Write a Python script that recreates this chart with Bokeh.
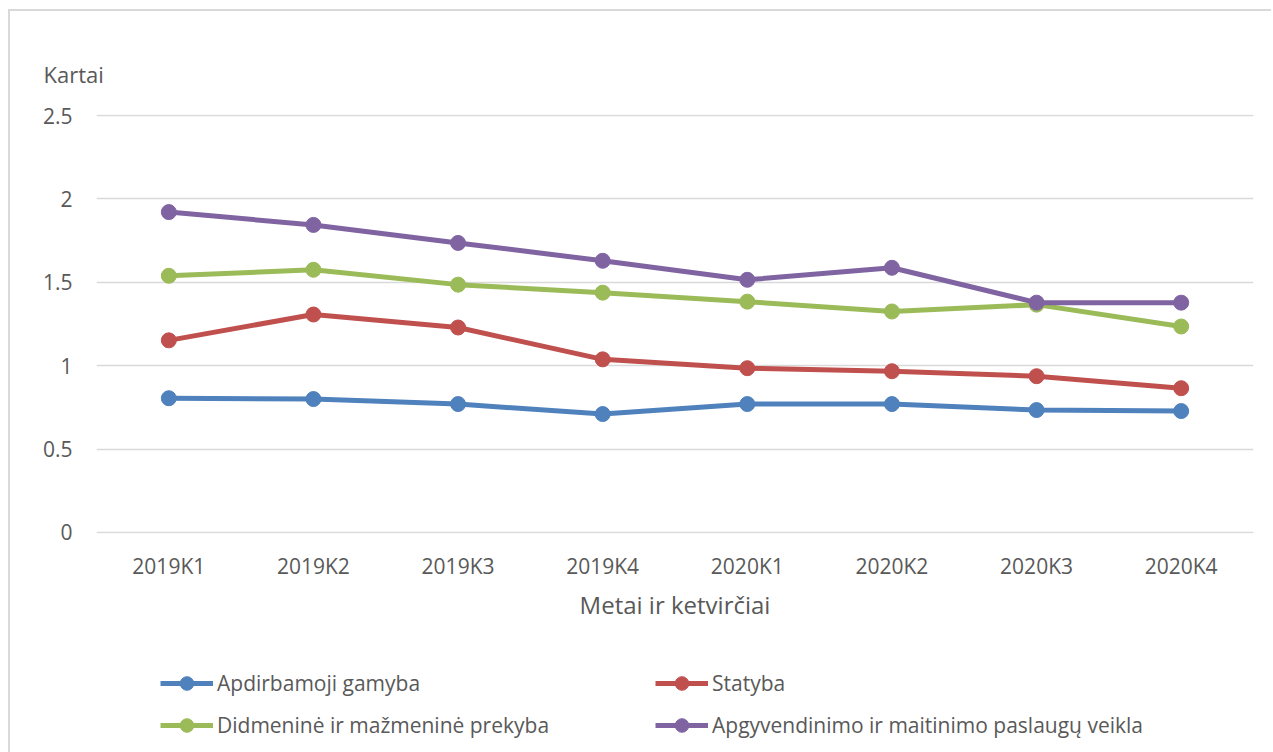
from bokeh.plotting import figure
from bokeh.layouts import column
from bokeh.models import FactorRange, Range1d, Legend, LegendItem, ColumnDataSource, Title
from bokeh.embed import file_html
from bokeh.resources import INLINE

quarters = ["2019K1", "2019K2", "2019K3", "2019K4", "2020K1", "2020K2", "2020K3", "2020K4"]
apdirbamoji = [0.805, 0.800, 0.770, 0.710, 0.770, 0.770, 0.734, 0.728]
statyba = [1.152, 1.307, 1.229, 1.038, 0.985, 0.967, 0.937, 0.865]
prekyba = [1.539, 1.575, 1.486, 1.438, 1.384, 1.325, 1.366, 1.235]
apgyvendinimo = [1.921, 1.844, 1.736, 1.629, 1.515, 1.587, 1.378, 1.378]

names = ["Apdirbamoji gamyba", "Statyba", "Didmeninė ir mažmeninė prekyba",
         "Apgyvendinimo ir maitinimo paslaugų veikla"]
colors = ["#4F81BD", "#C0504D", "#9BBB59", "#8064A2"]
series = [apdirbamoji, statyba, prekyba, apgyvendinimo]
y_ticks = [0, 0.5, 1, 1.5, 2, 2.5]
y_label = "Kartai"
x_label = "Metai ir ketvirčiai"

FONT = "Open Sans"
TXT = "#595959"
W = 1261

p = figure(width=W, height=630, output_backend="svg", toolbar_location=None,
           x_range=FactorRange(factors=quarters), y_range=Range1d(-0.006, 2.506),
           min_border_left=86, min_border_right=W - 1243, min_border_top=103,
           min_border_bottom=108)
p.outline_line_color = None
p.background_fill_color = "white"
p.border_fill_color = "white"

p.add_layout(Title(text=y_label, align="left", offset=-53, standoff=52,
                   text_font=FONT, text_font_size="22px", text_font_style="normal",
                   text_color=TXT), "above")

p.xgrid.visible = False
p.ygrid.grid_line_color = "#d9d9d9"
p.ygrid.grid_line_width = 1.5
p.yaxis.ticker = y_ticks
p.yaxis.major_label_overrides = {0: "0", 0.5: "0.5", 1: "1", 1.5: "1.5", 2: "2", 2.5: "2.5"}

for ax in (p.xaxis, p.yaxis):
    ax.axis_line_color = None
    ax.major_tick_line_color = None
    ax.minor_tick_line_color = None
    ax.major_label_text_font = FONT
    ax.major_label_text_font_size = "21px"
    ax.major_label_text_color = TXT
p.yaxis.major_label_standoff = 18
p.xaxis.major_label_standoff = 12
p.xaxis.axis_label = x_label
p.xaxis.axis_label_text_font = FONT
p.xaxis.axis_label_text_font_size = "24px"
p.xaxis.axis_label_text_font_style = "normal"
p.xaxis.axis_label_text_color = TXT
p.xaxis.axis_label_standoff = 5

sources = []
for name, col, vals in zip(names, colors, series):
    src = ColumnDataSource(dict(x=quarters, y=vals))
    sources.append(src)
    p.line("x", "y", source=src, line_color=col, line_width=5)
    p.scatter("x", "y", source=src, size=15, fill_color=col, line_color=col)

# legend strip below the chart (its frame is aligned with the chart's frame)
LH = 111
p2 = figure(width=W, height=LH, output_backend="svg", toolbar_location=None,
            x_range=FactorRange(factors=quarters), y_range=Range1d(10, 11),
            min_border_left=86, min_border_right=W - 1243,
            min_border_top=0, min_border_bottom=0)
p2.axis.visible = False
p2.grid.visible = False
p2.outline_line_color = None
p2.border_fill_color = "white"

proxies = []
for col, src in zip(colors, sources):
    l = p2.line("x", "y", source=src, line_color=col, line_width=5)
    c = p2.scatter("x", "y", source=src, size=15, fill_color=col, line_color=col)
    proxies.append([l, c])

def make_legend(idx, loc):
    items = [LegendItem(label=names[i], renderers=proxies[i]) for i in idx]
    lg = Legend(items=items, location=loc, orientation="vertical",
                glyph_width=53, glyph_height=34, label_height=34, label_standoff=4,
                spacing=8, padding=0, margin=0, border_line_alpha=0,
                background_fill_alpha=0, label_text_font=FONT,
                label_text_font_size="21px", label_text_color=TXT)
    p2.add_layout(lg, "center")

# legend top 32px below strip top; height = 34 + 8 + 34 = 76
make_legend([0, 2], (64, LH - 25 - 76))
make_legend([1, 3], (559, LH - 25 - 76))

layout = column(p, p2, spacing=0,
                styles={"margin-left": "8px", "margin-top": "9px",
                        "border-left": "2px solid #d9d9d9",
                        "border-top": "2px solid #d9d9d9"})

open("out.html", "w").write(file_html(layout, INLINE))
